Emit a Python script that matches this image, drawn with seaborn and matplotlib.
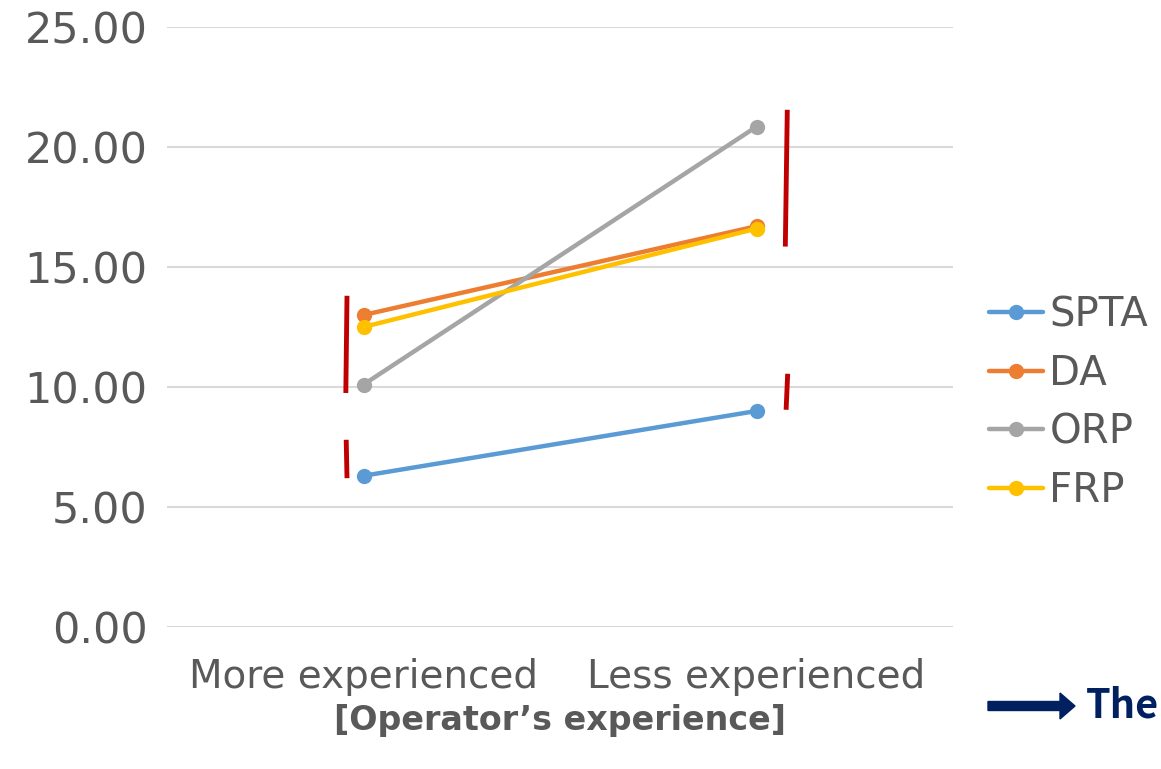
import matplotlib
matplotlib.use("Agg")
import matplotlib.pyplot as plt
import seaborn as sns
import pandas as pd

categories = ["More experienced", "Less experienced"]
series_names = ["SPTA", "DA", "ORP", "FRP"]
spta = [6.3, 9.0]
da = [13.0, 16.7]
orp = [10.1, 20.85]
frp = [12.5, 16.6]
colors = ["#5B9BD5", "#ED7D31", "#A5A5A5", "#FFC000"]
yticks = [0, 5, 10, 15, 20, 25]

sns.set_theme(style="white")
plt.rcParams['font.family'] = ['DejaVu Sans']

rows = []
for name, vals in zip(series_names, [spta, da, orp, frp]):
    for i, v in enumerate(vals):
        rows.append({"x": i, "value": v, "series": name})
df = pd.DataFrame(rows)

fig = plt.figure(figsize=(11.61, 7.69), dpi=100)
ax = fig.add_axes([0.1438, 0.1847, 0.821 - 0.1438, 0.9649 - 0.1847])

sns.lineplot(data=df, x="x", y="value", hue="series", hue_order=series_names,
             palette=colors, marker="o", markersize=11, markeredgewidth=0,
             linewidth=3.2, ax=ax, legend=True)

ax.set_xlim(-0.5, 1.5)
ax.set_ylim(0, 25)
ax.set_yticks(yticks)
ax.set_yticklabels([f"{t:.2f}" for t in yticks], fontsize=31, color="#595959")
ax.set_xticks([0, 1])
ax.set_xticklabels(categories, fontsize=28, color="#595959")
ax.tick_params(axis='both', length=0)
ax.tick_params(axis='y', pad=14)
ax.tick_params(axis='x', pad=22)
ax.yaxis.grid(True, color="#D9D9D9", linewidth=1.5)
ax.set_axisbelow(True)
for s in ax.spines.values():
    s.set_visible(False)
ax.set_ylabel("")
ax.set_xlabel("[Operator’s experience]", fontsize=24, fontweight="bold",
              color="#595959", labelpad=6)

# red bracket lines
red = "#C00000"
ax.plot([-0.042, -0.045], [13.8, 9.75], color=red, lw=3.5, solid_capstyle="butt")
ax.plot([-0.044, -0.042], [7.8, 6.2], color=red, lw=3.5, solid_capstyle="butt")
ax.plot([1.078, 1.073], [21.55, 15.85], color=red, lw=3.5, solid_capstyle="butt")
ax.plot([1.079, 1.075], [10.55, 9.05], color=red, lw=3.5, solid_capstyle="butt")

leg = ax.legend(loc="center left", bbox_to_anchor=(1.025, 0.373), frameon=False,
                fontsize=29, handlelength=1.35, handletextpad=0.15,
                labelspacing=0.46, borderaxespad=0)
for t in leg.get_texts():
    t.set_color("#595959")

# arrow + text at bottom right
navy = "#002060"
fig.patches.append(matplotlib.patches.FancyArrow(
    988 / 1161, 1 - 706 / 769, 72 / 1161, 0, width=9 / 769,
    head_width=26 / 769, head_length=15 / 1161, length_includes_head=False,
    color=navy, transform=fig.transFigure, figure=fig))
fig.text(1086 / 1161, 1 - 706 / 769, "The", fontsize=28.5, fontweight="bold",
         color=navy, va="center", ha="left", family=["Noto Sans CJK KR", "DejaVu Sans"])

fig.savefig("out.png", dpi=100)
